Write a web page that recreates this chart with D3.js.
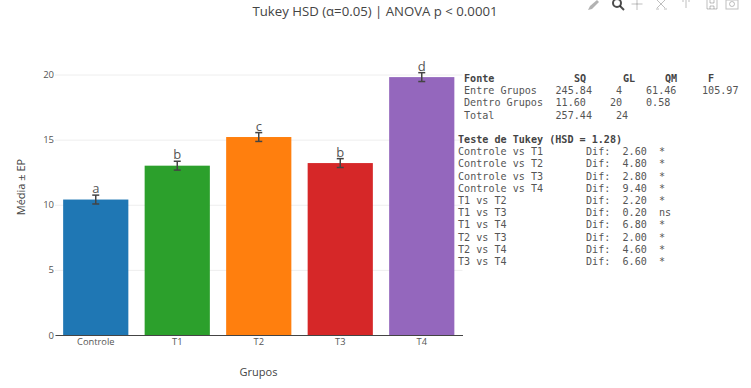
<!DOCTYPE html>
<html>
<head>
<meta charset="utf-8">
<script src="https://cdn.jsdelivr.net/npm/d3@7"></script>
<style>
  html, body { margin: 0; padding: 0; background: #fff; overflow: hidden; }
  svg { display: block; }
  text { font-family: "Open Sans", sans-serif; fill: #444; }
  .mono { font-family: "DejaVu Sans Mono", monospace; font-size: 10.1px; white-space: pre; }
</style>
</head>
<body>
<svg id="chart" width="751" height="388"></svg>
<script>
// values
const groups = ["Controle", "T1", "T2", "T3", "T4"];
const means = [10.4, 13.0, 15.2, 13.2, 19.8];
const stdErrors = [0.34, 0.34, 0.34, 0.34, 0.34];
const letters = ["a", "b", "c", "b", "d"];
const barColors = ["#1f77b4", "#2ca02c", "#ff7f0e", "#d62728", "#9467bd"];
const yTicks = [0, 5, 10, 15, 20];

// anova table, one array per column
const anovaHeader = ["Fonte", "SQ", "GL", "QM", "F"];
const anovaSource = ["Entre Grupos", "Dentro Grupos", "Total"];
const anovaSQ = ["245.84", "11.60", "257.44"];
const anovaGL = ["4", "20", "24"];
const anovaQM = ["61.46", "0.58", ""];
const anovaF = ["105.97", "", ""];

// tukey comparisons
const tukeyTitle = "Teste de Tukey (HSD = 1.28)";
const tukeyPairs = ["Controle vs T1", "Controle vs T2", "Controle vs T3", "Controle vs T4", "T1 vs T2",
                    "T1 vs T3", "T1 vs T4", "T2 vs T3", "T2 vs T4", "T3 vs T4"];
const tukeyDiffs = ["2.60", "4.80", "2.80", "9.40", "2.20", "0.20", "6.80", "2.00", "4.60", "6.60"];
const tukeySig = ["*", "*", "*", "*", "*", "ns", "*", "*", "*", "*"];

const svg = d3.select("#chart");
const plot = { left: 55, right: 462.5, bottom: 335 };

const x = d3.scaleBand().domain(groups).range([plot.left, plot.right]).paddingInner(0.2).paddingOuter(0.1);
// 20 sits at pixel 74.5
const y = d3.scaleLinear().domain([0, 20]).range([plot.bottom, 74.5]);

// title
svg.append("text")
   .attr("x", 375).attr("y", 16)
   .attr("text-anchor", "middle")
   .style("font-size", "13.2px")
   .text("Tukey HSD (α=0.05) | ANOVA p < 0.0001");

// y axis: grid lines and labels
const yAxis = svg.append("g")
   .attr("transform", `translate(${plot.left},0)`)
   .call(d3.axisLeft(y).tickValues(yTicks).tickSize(-(plot.right - plot.left)).tickPadding(1));
yAxis.select(".domain").remove();
yAxis.selectAll(".tick line").attr("stroke", "#eee");
yAxis.selectAll(".tick text").style("font-size", "9.5px").style("font-family", "'Open Sans', sans-serif").style("fill", "#555");

// bars
svg.selectAll("rect.bar")
   .data(groups)
   .join("rect")
   .attr("class", "bar")
   .attr("x", d => x(d))
   .attr("width", x.bandwidth())
   .attr("y", (d, i) => y(means[i]))
   .attr("height", (d, i) => y(0) - y(means[i]))
   .style("fill", (d, i) => barColors[i]);

// error bars
const errorBars = svg.selectAll("g.err")
   .data(groups)
   .join("g")
   .attr("class", "err")
   .attr("transform", d => `translate(${x(d) + x.bandwidth() / 2},0)`)
   .style("stroke", "#444")
   .style("stroke-width", 1.5);
errorBars.append("line")
   .attr("y1", (d, i) => y(means[i] - stdErrors[i]))
   .attr("y2", (d, i) => y(means[i] + stdErrors[i]));
errorBars.append("line").attr("x1", -3.5).attr("x2", 3.5)
   .attr("y1", (d, i) => y(means[i] - stdErrors[i]))
   .attr("y2", (d, i) => y(means[i] - stdErrors[i]));
errorBars.append("line").attr("x1", -3.5).attr("x2", 3.5)
   .attr("y1", (d, i) => y(means[i] + stdErrors[i]))
   .attr("y2", (d, i) => y(means[i] + stdErrors[i]));

// significance letters
svg.selectAll("text.letter")
   .data(groups)
   .join("text")
   .attr("class", "letter")
   .attr("x", d => x(d) + x.bandwidth() / 2)
   .attr("y", (d, i) => y(means[i]) - 6.5)
   .attr("text-anchor", "middle")
   .style("font-size", "13px")
   .style("fill", "#555")
   .text((d, i) => letters[i]);

// x axis
const xAxis = svg.append("g")
   .attr("transform", `translate(0,${plot.bottom})`)
   .call(d3.axisBottom(x).tickSize(0).tickSizeOuter(0).tickPadding(3));
xAxis.select(".domain").attr("stroke", "#444").attr("stroke-width", 1);
xAxis.selectAll(".tick text").style("font-size", "9.3px").style("font-family", "'Open Sans', sans-serif").style("fill", "#555");

// axis titles
svg.append("text")
   .attr("x", 258.5).attr("y", 376)
   .attr("text-anchor", "middle")
   .style("font-size", "11px")
   .text("Grupos");
svg.append("text")
   .attr("transform", "translate(25,187) rotate(-90)")
   .attr("text-anchor", "middle")
   .style("font-size", "11px")
   .text("Média ± EP");

// stats text, every column has its own x because the original spacing is uneven
const row = d3.scaleLinear().domain([0, 1]).range([82, 94.2]);
const textBlock = svg.append("g").attr("class", "stats");

function addText(str, rowIndex, left, bold) {
    textBlock.append("text")
        .attr("class", "mono")
        .attr("x", left)
        .attr("y", row(rowIndex))
        .style("font-weight", bold ? "bold" : "normal")
        .style("fill", bold ? "#444" : "#555")
        .text(str);
}

const headerX = [464, 574, 623, 665, 708];
anovaHeader.forEach((h, i) => addText(h, 0, headerX[i], true));

const glX = [616, 610, 616];
anovaSource.forEach((s, i) => {
    addText(s, i + 1, 464, false);
    addText(anovaSQ[i], i + 1, 555.5, false);
    addText(anovaGL[i], i + 1, glX[i], false);
    addText(anovaQM[i], i + 1, 646, false);
    addText(anovaF[i], i + 1, 702, false);
});

addText(tukeyTitle, 5, 458, true);
tukeyPairs.forEach((p, i) => {
    addText(p, i + 6, 458, false);
    addText("Dif:", i + 6, 586, false);
    addText(tukeyDiffs[i], i + 6, 622.5, false);
    addText(tukeySig[i], i + 6, 659, false);
});

// modebar icons, just rough shapes
const modebar = svg.append("g").style("fill", "none").style("stroke", "#000").style("stroke-opacity", 0.25);
modebar.append("path").attr("d", "M588 10 l2 -4 l7 -6 l2 2 l-7 7 z").style("fill", "#000").style("fill-opacity", 0.3).style("stroke", "none");
modebar.append("circle").attr("cx", 617).attr("cy", 3).attr("r", 4).style("stroke-opacity", 0.7).style("stroke-width", 2);
modebar.append("path").attr("d", "M620 6 l4 4").style("stroke-opacity", 0.7).style("stroke-width", 2);
modebar.append("path").attr("d", "M637 -1 v11 M631.5 4 h11");
modebar.append("path").attr("d", "M657 0 l8 8 M665 0 l-8 8 M656 9 h3 M664 9 h3");
modebar.append("path").attr("d", "M686 0 v8 M682 1 h2 M688 1 h2");
modebar.append("path").attr("d", "M707 0 v9 h10 v-9 M710 0 v3 h4 v-3 M710 9 v-3 h4 v3");
modebar.append("rect").attr("x", 726).attr("y", 0).attr("width", 12).attr("height", 9);
modebar.append("circle").attr("cx", 732).attr("cy", 4).attr("r", 2.5);
</script>
</body>
</html>
